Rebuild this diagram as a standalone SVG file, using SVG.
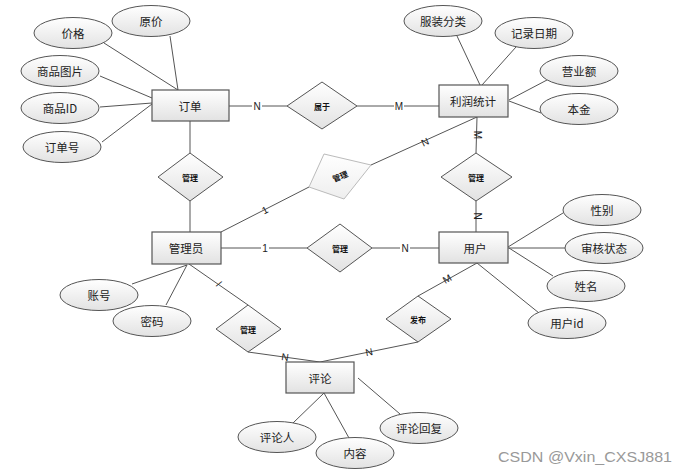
<svg xmlns="http://www.w3.org/2000/svg" width="690" height="476" viewBox="0 0 690 476">
<defs>
<linearGradient id="g" x1="0" y1="0" x2="0" y2="1">
<stop offset="0" stop-color="#ffffff"/>
<stop offset="1" stop-color="#e2e2e2"/>
</linearGradient>
<linearGradient id="gf" x1="0" y1="0" x2="0" y2="1">
<stop offset="0" stop-color="#ffffff"/>
<stop offset="1" stop-color="#eeeeee"/>
</linearGradient>
<style>
.ent{fill:url(#g);stroke:#555;stroke-width:1.2}
.att{fill:url(#g);stroke:#555;stroke-width:1}
.rel{fill:url(#g);stroke:#555;stroke-width:1}
.faded{fill:url(#gf);stroke:#bbb;stroke-width:1}
.ln{stroke:#555;stroke-width:1;fill:none}
.bg{fill:#fff}
.t{font-family:"Noto Sans CJK SC","Noto Sans",sans-serif;font-size:11.5px;fill:#222;text-anchor:middle;dominant-baseline:central}
.tr{font-family:"Noto Sans CJK SC","Noto Sans",sans-serif;font-size:8px;font-weight:bold;fill:#111;text-anchor:middle;dominant-baseline:central}
.lb{font-family:"Liberation Sans",sans-serif;font-size:10px;fill:#222;text-anchor:middle;dominant-baseline:central}
</style>
</defs>
<rect width="690" height="476" fill="#fff"/>
<g id="connectors">
<line class="ln" x1="229" y1="106" x2="287" y2="106"/>
<line class="ln" x1="357" y1="106" x2="439" y2="106"/>
<line class="ln" x1="190" y1="121" x2="190" y2="153"/>
<line class="ln" x1="190" y1="201" x2="190" y2="232"/>
<line class="ln" x1="221" y1="232" x2="309" y2="187"/>
<line class="ln" x1="371" y1="165" x2="477" y2="117"/>
<line class="ln" x1="477" y1="117" x2="476" y2="153"/>
<line class="ln" x1="476" y1="201" x2="476" y2="232"/>
<line class="ln" x1="457" y1="36" x2="480" y2="85"/>
<line class="ln" x1="516" y1="47" x2="482" y2="85"/>
<line class="ln" x1="547" y1="80" x2="509" y2="100"/>
<line class="ln" x1="509" y1="101" x2="541" y2="113" stroke-width="1.6"/>
<line class="ln" x1="170" y1="36" x2="178" y2="90"/>
<line class="ln" x1="104" y1="43" x2="178" y2="90"/>
<line class="ln" x1="100" y1="76" x2="152" y2="98"/>
<line class="ln" x1="100" y1="107" x2="152" y2="103"/>
<line class="ln" x1="102" y1="142" x2="152" y2="104"/>
<line class="ln" x1="221" y1="248" x2="307" y2="248" stroke="#777" stroke-width="1.6"/>
<line class="ln" x1="372" y1="248" x2="439" y2="248" stroke="#777" stroke-width="1.6"/>
<line class="ln" x1="508" y1="247" x2="563" y2="213"/>
<line class="ln" x1="508" y1="248" x2="565" y2="248" stroke="#777" stroke-width="1.6"/>
<line class="ln" x1="509" y1="248" x2="553" y2="276"/>
<line class="ln" x1="477" y1="263" x2="539" y2="313"/>
<line class="ln" x1="477" y1="263" x2="418" y2="296"/>
<line class="ln" x1="418" y1="342" x2="320" y2="362"/>
<line class="ln" x1="189" y1="264" x2="248" y2="305"/>
<line class="ln" x1="248" y1="352" x2="320" y2="362"/>
<line class="ln" x1="187" y1="265" x2="132" y2="284"/>
<line class="ln" x1="187" y1="265" x2="166" y2="305"/>
<line class="ln" x1="324" y1="393" x2="293" y2="423"/>
<line class="ln" x1="324" y1="393" x2="349" y2="438"/>
<line class="ln" x1="358" y1="378" x2="400" y2="414"/>
<rect class="bg" x="252" y="101" width="10" height="10"/>
<rect class="bg" x="394" y="101" width="10" height="10"/>
<rect class="bg" x="261" y="243" width="8" height="10"/>
<rect class="bg" x="400" y="243" width="10" height="10"/>
<text class="lb" x="257" y="106">N</text>
<text class="lb" x="399" y="106" fill="#1f3b73">M</text>
<text class="lb" x="265" y="210" transform="rotate(-27 265 210)">1</text>
<text class="lb" x="425" y="142" transform="rotate(-25 425 142)" font-size="9">N</text>
<text class="lb" x="477" y="135" transform="rotate(90 477 135)" font-size="9">M</text>
<text class="lb" x="477" y="216" transform="rotate(90 477 216)" font-size="9">N</text>
<text class="lb" x="265" y="248" fill="#b22">1</text>
<text class="lb" x="405" y="248">N</text>
<text class="lb" x="447" y="279" transform="rotate(-30 447 279)" font-size="8">M</text>
<text class="lb" x="369" y="352" transform="rotate(-12 369 352)" font-size="8">N</text>
<text class="lb" x="219" y="284" transform="rotate(35 219 284)" font-size="8">/</text>
<text class="lb" x="285" y="357" transform="rotate(8 285 357)" font-size="8">N</text>
</g>
<g id="order"><rect class="ent" x="152" y="90" width="77" height="31"/><text class="t" x="190" y="106">订单</text></g>
<g id="profit"><rect class="ent" x="439" y="85" width="69" height="32"/><text class="t" x="473" y="101">利润统计</text></g>
<g id="admin"><rect class="ent" x="152" y="232" width="69" height="32"/><text class="t" x="186" y="248">管理员</text></g>
<g id="user"><rect class="ent" x="439" y="232" width="69" height="31"/><text class="t" x="475" y="248">用户</text></g>
<g id="comment"><rect class="ent" x="286" y="362" width="68" height="31"/><text class="t" x="320" y="378">评论</text></g>
<g id="a-yuanjia"><ellipse class="att" cx="151" cy="21" rx="39" ry="15.5"/><text class="t" x="151" y="21">原价</text></g>
<g id="a-jiage"><ellipse class="att" cx="73" cy="33" rx="39" ry="15.5"/><text class="t" x="73" y="33">价格</text></g>
<g id="a-tupian"><ellipse class="att" cx="60" cy="71" rx="39" ry="15.5"/><text class="t" x="60" y="71">商品图片</text></g>
<g id="a-spid"><ellipse class="att" cx="60" cy="108" rx="39" ry="15.5"/><text class="t" x="60" y="108">商品ID</text></g>
<g id="a-ddh"><ellipse class="att" cx="62" cy="147" rx="39" ry="15.5"/><text class="t" x="62" y="147">订单号</text></g>
<g id="a-fzfl"><ellipse class="att" cx="443" cy="21" rx="39" ry="15.5"/><text class="t" x="443" y="21">服装分类</text></g>
<g id="a-jlrq"><ellipse class="att" cx="534" cy="33" rx="39" ry="15.5"/><text class="t" x="534" y="33">记录日期</text></g>
<g id="a-yye"><ellipse class="att" cx="579" cy="71" rx="39" ry="15.5"/><text class="t" x="579" y="71">营业额</text></g>
<g id="a-bj"><ellipse class="att" cx="579" cy="109" rx="39" ry="15.5"/><text class="t" x="579" y="109">本金</text></g>
<g id="a-xb"><ellipse class="att" cx="602" cy="210" rx="39" ry="15.5"/><text class="t" x="602" y="210">性别</text></g>
<g id="a-shzt"><ellipse class="att" cx="604" cy="248" rx="39" ry="15.5"/><text class="t" x="604" y="248">审核状态</text></g>
<g id="a-xm"><ellipse class="att" cx="586" cy="286" rx="39" ry="15.5"/><text class="t" x="586" y="286">姓名</text></g>
<g id="a-yhid"><ellipse class="att" cx="567" cy="323" rx="39" ry="15.5"/><text class="t" x="567" y="323">用户id</text></g>
<g id="a-zh"><ellipse class="att" cx="99" cy="295" rx="39" ry="15.5"/><text class="t" x="99" y="295">账号</text></g>
<g id="a-mm"><ellipse class="att" cx="152" cy="321" rx="39" ry="15.5"/><text class="t" x="152" y="321">密码</text></g>
<g id="a-plr"><ellipse class="att" cx="277" cy="437" rx="39" ry="15.5"/><text class="t" x="277" y="437">评论人</text></g>
<g id="a-nr"><ellipse class="att" cx="355" cy="453" rx="39" ry="15.5"/><text class="t" x="355" y="453">内容</text></g>
<g id="a-plhf"><ellipse class="att" cx="419" cy="428" rx="39" ry="15.5"/><text class="t" x="419" y="428">评论回复</text></g>
<g id="r-shuyu"><polygon class="rel" points="322,82 357,106 322,129 287,106"/><text class="tr" x="322" y="106" font-weight="normal">属于</text></g>
<g id="r-gl1"><polygon class="rel" points="190,153 223,177 190,201 158,177"/><text class="tr" x="190" y="177">管理</text></g>
<g id="r-gl2"><polygon class="faded" points="324,154 371,165 344,199 309,187"/><text class="tr" x="340" y="176" font-weight="normal" fill="#888" transform="rotate(-22 340 176)">管理</text></g>
<g id="r-gl3"><polygon class="rel" points="476,153 512,177 476,201 441,177"/><text class="tr" x="476" y="177">管理</text></g>
<g id="r-gl4"><polygon class="rel" points="340,224 372,248 340,272 307,248"/><text class="tr" x="340" y="248">管理</text></g>
<g id="r-gl5"><polygon class="rel" points="248,305 281,329 248,352 216,329"/><text class="tr" x="248" y="329">管理</text></g>
<g id="r-fb"><polygon class="rel" points="418,296 451,319 418,342 386,319"/><text class="tr" x="418" y="319" font-weight="normal">发布</text></g>
<text x="498" y="462" font-family="'Liberation Sans',sans-serif" font-size="15" fill="#999" textLength="174" lengthAdjust="spacingAndGlyphs">CSDN @Vxin_CXSJ881</text>
</svg>
